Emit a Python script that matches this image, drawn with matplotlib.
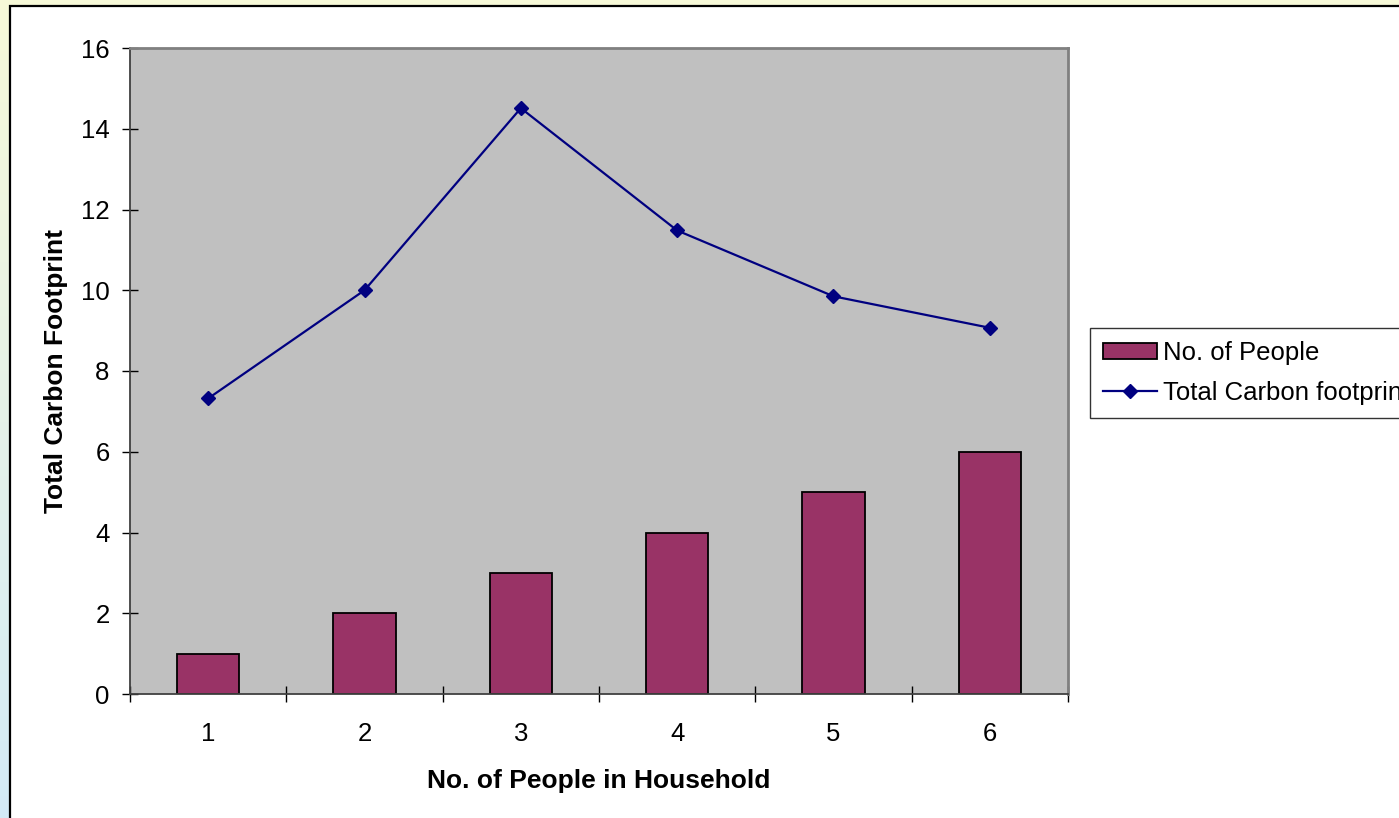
import matplotlib
matplotlib.use("Agg")
import matplotlib.pyplot as plt
import numpy as np
from matplotlib.patches import Rectangle

plt.rcParams['font.family'] = ['Liberation Sans', 'DejaVu Sans']

categories = ['1', '2', '3', '4', '5', '6']
people = [1, 2, 3, 4, 5, 6]
carbon = [7.32, 10.0, 14.51, 11.48, 9.85, 9.07]
yticks = [0, 2, 4, 6, 8, 10, 12, 14, 16]

W, H = 1399, 818
fig = plt.figure(figsize=(W / 100, H / 100), dpi=100)

# gradient background
bg = fig.add_axes([0, 0, 1, 1], zorder=-10)
top = np.array([0.97, 0.98, 0.85])
bot = np.array([0.83, 0.92, 0.97])
t = np.linspace(0, 1, 256)[:, None]
grad = (top * (1 - t) + bot * t)[:, None, :]
bg.imshow(grad, aspect='auto', extent=[0, 1, 0, 1])
bg.set_axis_off()

# white chart area with black frame
fig.patches.append(Rectangle((10 / W, -0.05), 1.2, 1 - 6 / H + 0.05,
                             transform=fig.transFigure, facecolor='white',
                             edgecolor='black', linewidth=1.6, zorder=-5))

ax = fig.add_axes([130 / W, 1 - 694 / H, (1068 - 130) / W, (694 - 48) / H])
ax.set_facecolor('#C0C0C0')

x = np.arange(len(categories))
bars = ax.bar(x, people, width=0.4, color='#993366', edgecolor='black',
              linewidth=1.3, label='No. of People', zorder=2)
line, = ax.plot(x, carbon, color='#000080', marker='D', markersize=7.5,
                linewidth=1.6, label='Total Carbon footprint', zorder=3)

ax.set_xlim(-0.5, len(categories) - 0.5)
ax.set_ylim(0, 16)
ax.set_yticks(yticks)
ax.set_yticklabels([str(v) for v in yticks])
ax.set_xticks(np.arange(-0.5, len(categories), 1.0))
ax.set_xticklabels([])
ax.set_xticks(x, minor=True)
ax.set_xticklabels(categories, minor=True)

ax.tick_params(axis='both', which='major', direction='inout', length=11.5,
               width=1.0, color='black', labelsize=18.5)
ax.tick_params(axis='y', which='major', pad=9)
ax.tick_params(axis='x', which='minor', length=0, labelsize=18.5, pad=20)

for s in ['top', 'right']:
    ax.spines[s].set_color('#808080')
    ax.spines[s].set_linewidth(2)
for s in ['left', 'bottom']:
    ax.spines[s].set_color('#404040')
    ax.spines[s].set_linewidth(1.3)

ax.set_xlabel('No. of People in Household', fontsize=19, fontweight='bold',
              labelpad=17)
ax.set_ylabel('Total Carbon Footprint', fontsize=19, fontweight='bold',
              labelpad=9.5)

leg = fig.legend(handles=[bars, line],
                 labels=['No. of People', 'Total Carbon footprint'],
                 loc='upper left', bbox_to_anchor=(1090 / W, 1 - 328 / H),
                 frameon=True, fancybox=False, fontsize=18.5,
                 handlelength=2.1, handleheight=0.6, handletextpad=0.25,
                 borderpad=0.5, labelspacing=0.62, borderaxespad=0)
leg.get_frame().set_edgecolor('black')
leg.get_frame().set_linewidth(1.0)

fig.savefig('out.png', dpi=100)
